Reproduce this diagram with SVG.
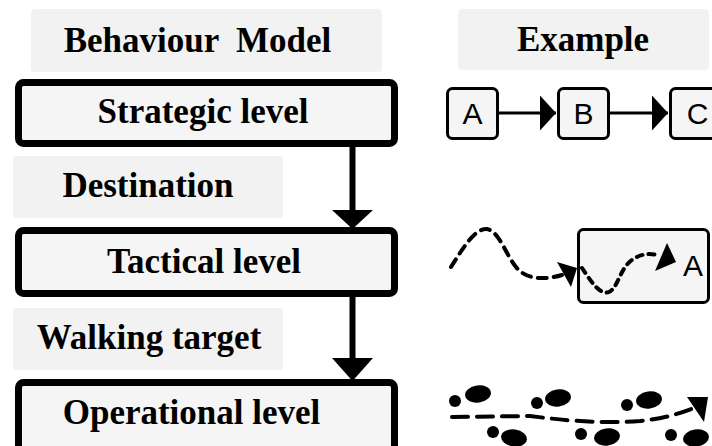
<svg xmlns="http://www.w3.org/2000/svg" width="712" height="446" viewBox="0 0 712 446">
<style>
.lbl{fill:#f2f2f2;stroke:none}
.lvl{fill:#f5f5f5;stroke:#000;stroke-width:7}
.hd{font-family:"Liberation Serif","Times New Roman",serif;font-weight:bold;font-size:35px;fill:#000;text-anchor:middle}
.ex{fill:#f5f5f5;stroke:#000;stroke-width:3}
.sans{font-family:"Liberation Sans",Arial,sans-serif;font-size:30px;fill:#000;text-anchor:middle}
.conn{stroke:#000;stroke-width:6;fill:none}
.dash{stroke:#000;stroke-width:4;fill:none;stroke-linecap:round}
.blk{fill:#000;stroke:none}
</style>
<defs>
<marker id="tri" markerUnits="userSpaceOnUse" markerWidth="16" markerHeight="35" viewBox="0 0 16 35" refX="16" refY="17.5" orient="auto">
<path d="M0,0 L16,17.5 L0,35 Z" fill="#000"/>
</marker>
</defs>

<g id="hdr-model">
<rect class="lbl" x="31" y="9" width="351" height="63" rx="4"/>
<text class="hd" x="197.5" y="52" xml:space="preserve">Behaviour  Model</text>
</g>
<g id="hdr-example">
<rect class="lbl" x="458" y="9" width="251" height="61" rx="4"/>
<text class="hd" x="583" y="51">Example</text>
</g>

<g id="strategic">
<rect class="lvl" x="18.5" y="82.5" width="376" height="61" rx="5"/>
<text class="hd" x="203" y="123">Strategic level</text>
</g>
<g id="destination">
<rect class="lbl" x="13" y="156" width="270" height="62" rx="4"/>
<text class="hd" x="148" y="197">Destination</text>
</g>
<g id="tactical">
<rect class="lvl" x="18.5" y="230.5" width="376" height="63" rx="5"/>
<text class="hd" x="204" y="273">Tactical level</text>
</g>
<g id="walking">
<rect class="lbl" x="13" y="308" width="270" height="62" rx="4"/>
<text class="hd" x="149" y="349">Walking target</text>
</g>
<g id="operational">
<rect class="lvl" x="18.5" y="382.5" width="376" height="75" rx="5"/>
<text class="hd" x="191.5" y="424">Operational level</text>
</g>

<g id="connectors">
<line class="conn" x1="352.5" y1="147" x2="352.5" y2="211"/>
<polygon class="blk" points="332,210 373,210 352.5,229"/>
<line class="conn" x1="352.5" y1="297" x2="352.5" y2="359"/>
<polygon class="blk" points="332,358 373,358 352.5,381"/>
<line stroke="#000" stroke-width="3" x1="498" y1="113" x2="556" y2="113" marker-end="url(#tri)"/>
<line stroke="#000" stroke-width="3" x1="610" y1="113" x2="668" y2="113" marker-end="url(#tri)"/>
</g>

<g id="ex-a">
<rect class="ex" x="447.5" y="88.5" width="50" height="50" rx="5"/>
<text class="sans" x="472.5" y="124">A</text>
</g>
<g id="ex-b">
<rect class="ex" x="558.5" y="88.5" width="50" height="50" rx="5"/>
<text class="sans" x="583.5" y="124">B</text>
</g>
<g id="ex-c">
<rect class="ex" x="670.5" y="88.5" width="50" height="50" rx="5"/>
<text class="sans" x="697.5" y="124">C</text>
</g>

<g id="ex-tactical">
<rect class="ex" x="578.5" y="229.5" width="130" height="73" rx="5"/>
<text class="sans" x="693" y="276">A</text>
<path class="dash" stroke-dasharray="9,7" d="M451,267 C463,248 475,228 487,229 C499,231 506,255 516,267 C526,280 545,280 562,275"/>
<polygon class="blk" points="557,262 571,287 577,268"/>
<path class="dash" stroke-dasharray="6,6" d="M582,268 C590,280 600,296 609,292 C618,288 620,268 632,260 C641,253 652,253 660,256"/>
<polygon class="blk" points="655,271 667,243 676,262"/>
</g>

<g id="ex-operational">
<path class="dash" stroke-dasharray="16,9" d="M452,417 L530,416 C560,420 600,424 640,421 C660,419 676,415 694,408"/>
<polygon class="blk" points="687,397 708,397 704,422"/>
<circle class="blk" cx="455" cy="401" r="6"/>
<ellipse class="blk" cx="478" cy="394" rx="13" ry="8.5" transform="rotate(-8 478 394)"/>
<circle class="blk" cx="537" cy="403" r="6"/>
<ellipse class="blk" cx="558" cy="398" rx="13" ry="8.5" transform="rotate(-8 558 398)"/>
<circle class="blk" cx="627" cy="405" r="6"/>
<ellipse class="blk" cx="649" cy="400" rx="13" ry="8.5" transform="rotate(-8 649 400)"/>
<circle class="blk" cx="493" cy="432" r="6"/>
<ellipse class="blk" cx="514" cy="438" rx="13" ry="8.5" transform="rotate(8 514 438)"/>
<circle class="blk" cx="581" cy="434" r="6"/>
<ellipse class="blk" cx="607" cy="437" rx="13" ry="8.5" transform="rotate(-8 607 437)"/>
<circle class="blk" cx="671" cy="435" r="6"/>
<ellipse class="blk" cx="696" cy="438" rx="13" ry="8.5" transform="rotate(-8 696 438)"/>
</g>
</svg>
